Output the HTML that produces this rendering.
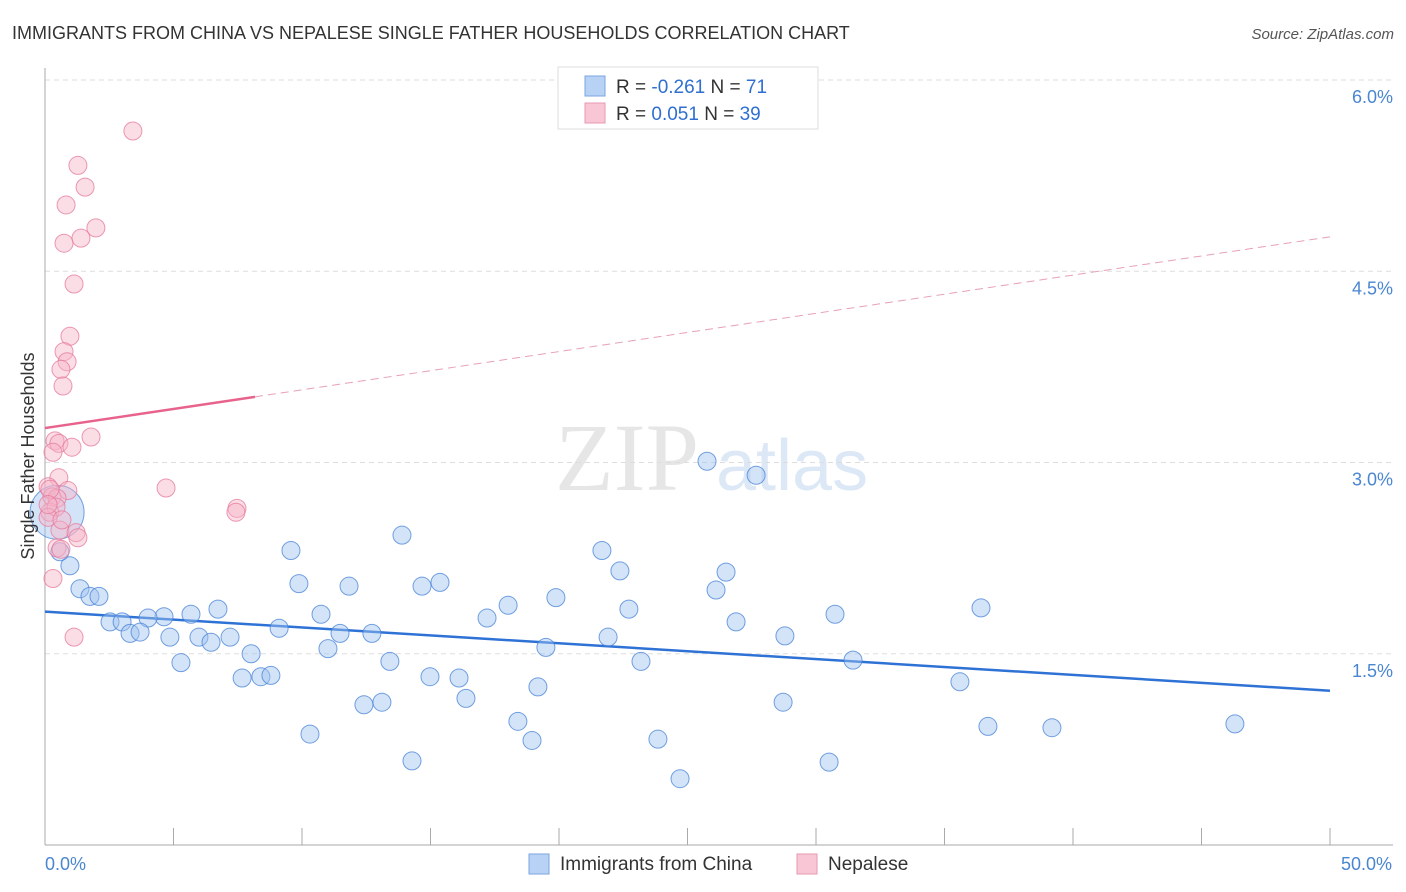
<!DOCTYPE html>
<html><head><meta charset="utf-8"><style>
body{margin:0;background:#fff;font-family:"Liberation Sans",sans-serif;}
svg{display:block}
</style></head><body>
<svg id="chart" width="1406" height="892" xmlns="http://www.w3.org/2000/svg" font-family="Liberation Sans, sans-serif">
<text x="12" y="39" font-size="18" fill="#333">IMMIGRANTS FROM CHINA VS NEPALESE SINGLE FATHER HOUSEHOLDS CORRELATION CHART</text>
<text x="1394" y="39" font-size="15" fill="#555" text-anchor="end" font-style="italic">Source: ZipAtlas.com</text>
<g opacity="0.18">
<text x="555" y="490" font-size="96" font-family="Liberation Serif, serif" fill="#777">ZIP</text>
<text x="716" y="490" font-size="72" fill="#4a86d0">atlas</text>
</g>
<g id="grid"></g>
<g id="axes"></g>
<g id="trend"></g>
<g id="pts"></g>
<text transform="translate(34,456) rotate(-90)" text-anchor="middle" font-size="18" fill="#333">Single Father Households</text>
<g>
<rect x="558" y="67" width="260" height="62" fill="#fff" stroke="#ddd"/>
<rect x="585" y="76" width="20" height="20" fill="#b8d2f5" stroke="#7aa6e0"/>
<rect x="585" y="103" width="20" height="20" fill="#f9c6d6" stroke="#e899b2"/>
<text x="616" y="93" font-size="19" fill="#333">R = <tspan fill="#2f6fd0">-0.261</tspan>   N = <tspan fill="#2f6fd0"> 71</tspan></text>
<text x="616" y="120" font-size="19" fill="#333">R = <tspan fill="#2f6fd0"> 0.051</tspan>   N = <tspan fill="#2f6fd0">39</tspan></text>
</g>
<g>
<rect x="529" y="854" width="20" height="20" fill="#b8d2f5" stroke="#7aa6e0"/>
<text x="560" y="870" font-size="19" fill="#333">Immigrants from China</text>
<rect x="797" y="854" width="20" height="20" fill="#f9c6d6" stroke="#e899b2"/>
<text x="828" y="870" font-size="19" fill="#333">Nepalese</text>
</g>
</svg>
<script>
const yTicks=[1.5,3.0,4.5,6.0];
const yTickLabels=["1.5%","3.0%","4.5%","6.0%"];
const xTickLabels=["0.0%","50.0%"];
const chinaX=[25.76,27.67,13.89,9.57,21.67,22.37,26.50,15.37,9.88,11.83,14.67,1.36,0.97,1.75,2.10,19.88,26.11,18.02,22.72,6.73,10.74,5.68,30.74,36.42,4.63,4.01,2.53,3.00,26.89,9.11,11.48,12.72,3.31,3.70,4.86,7.20,5.99,6.46,21.91,28.79,19.49,11.01,8.02,13.42,23.19,31.44,5.29,17.20,7.67,8.40,8.79,14.98,16.11,35.60,19.18,16.38,13.11,12.41,28.72,18.40,36.69,39.18,46.30,10.31,18.95,23.85,14.28,30.51,24.71,0.58,0.47];
const chinaY=[3.01,2.90,2.43,2.31,2.31,2.15,2.14,2.06,2.05,2.03,2.03,2.01,2.19,1.95,1.95,1.94,2.00,1.88,1.85,1.85,1.81,1.81,1.81,1.86,1.79,1.78,1.75,1.75,1.75,1.70,1.66,1.66,1.66,1.67,1.63,1.63,1.63,1.59,1.63,1.64,1.55,1.54,1.50,1.44,1.44,1.45,1.43,1.78,1.31,1.32,1.33,1.32,1.31,1.28,1.24,1.15,1.12,1.10,1.12,0.97,0.93,0.92,0.95,0.87,0.82,0.83,0.66,0.65,0.52,2.30,2.61];
const nepX=[3.42,1.28,1.56,0.82,1.98,1.40,0.74,1.13,0.97,0.74,0.86,0.62,0.70,1.79,0.39,0.54,1.05,0.31,0.54,4.71,0.12,0.89,0.27,0.47,7.47,7.43,0.19,0.43,0.12,0.58,1.21,1.28,0.47,0.62,0.31,1.13,0.19,0.12,0.66];
const nepY=[5.60,5.33,5.16,5.02,4.84,4.76,4.72,4.40,3.99,3.87,3.79,3.73,3.60,3.20,3.17,3.15,3.12,3.08,2.88,2.80,2.81,2.78,2.73,2.72,2.64,2.61,2.61,2.65,2.57,2.47,2.45,2.41,2.33,2.32,2.09,1.63,2.79,2.67,2.55];
const chinaTrend=[1.83,1.21];
const nepTrend=[3.27,4.77];
const nepSolidEnd=8.17;
const NS="http://www.w3.org/2000/svg";
const X=v=>45+v*25.7, Y=v=>845-v*127.5;
function mk(t,a,p){const e=document.createElementNS(NS,t);for(const k in a)e.setAttribute(k,a[k]);document.getElementById(p).appendChild(e);return e;}
yTicks.forEach((t,i)=>{
 const l=mk('line',{x1:45,x2:1393,y1:Y(t),y2:Y(t),stroke:'#ddd','stroke-dasharray':'5,4'},'grid');
 
 
 const tx=mk('text',{x:1393,y:Y(t)+23,'text-anchor':'end','font-size':18,fill:'#4a86d0'},'grid');
 tx.textContent=yTickLabels[i];
 
 
});
const ax=mk('line',{x1:45,x2:45,y1:68,y2:845,stroke:'#aaa'},'axes');


const bx=mk('line',{x1:45,x2:1393,y1:845,y2:845,stroke:'#aaa'},'axes');


for(let i=0;i<=10;i++){const t=mk('line',{x1:X(i*5),x2:X(i*5),y1:828,y2:845,stroke:'#aaa'},'axes');
 
 }
[[0,'start'],[50,'end']].forEach((p,i)=>{const t=mk('text',{x:X(p[0])+(i?62:0),y:870,'text-anchor':p[1],'font-size':18,fill:'#4a86d0'},'axes');
 t.textContent=xTickLabels[i];
 
 });
const nslope=(nepTrend[1]-nepTrend[0])/50;
const tl1=mk('line',{x1:X(0),y1:Y(chinaTrend[0]),x2:X(50),y2:Y(chinaTrend[1]),stroke:'#2f72d6','stroke-width':2.5},'trend');


const tl2=mk('line',{x1:X(0),y1:Y(nepTrend[0]),x2:X(nepSolidEnd),y2:Y(nepTrend[0]+nslope*nepSolidEnd),stroke:'#e8638c','stroke-width':2.5},'trend');


const tl3=mk('line',{x1:X(nepSolidEnd),y1:Y(nepTrend[0]+nslope*nepSolidEnd),x2:X(50),y2:Y(nepTrend[1]),stroke:'#e8a0b8','stroke-width':1,'stroke-dasharray':'8,5'},'trend');


chinaX.forEach((x,i)=>{const c=mk('circle',{cx:X(x),cy:Y(chinaY[i]),r:i===chinaX.length-1?27:9,fill:'rgba(160,196,240,0.45)',stroke:'rgba(70,130,215,0.75)'},'pts');
 
 });
nepX.forEach((x,i)=>{const c=mk('circle',{cx:X(x),cy:Y(nepY[i]),r:9,fill:'rgba(246,180,200,0.45)',stroke:'rgba(230,120,155,0.75)'},'pts');
 
 });
</script>
</body></html>
